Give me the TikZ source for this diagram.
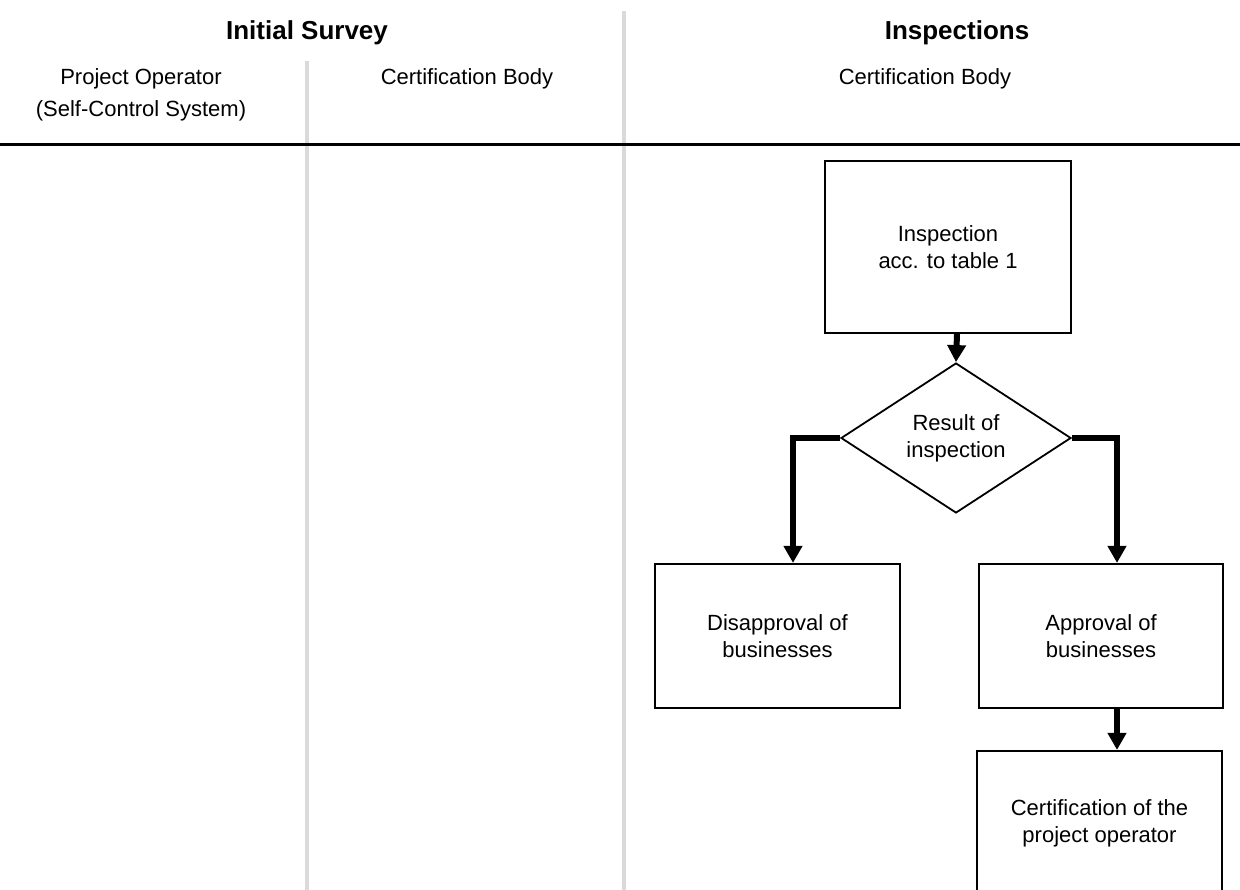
\documentclass[tikz,border=0pt]{standalone}
\usepackage{fontspec}
\setmainfont{Liberation Sans}
\usetikzlibrary{shapes.geometric,arrows.meta}
\definecolor{lanegray}{HTML}{DADADA}
\tikzset{
  box/.style={draw, line width=2.2pt, rectangle, minimum width=245pt, minimum height=144pt, inner sep=0pt, align=center, font=\fontsize{22}{27}\selectfont},
  dec/.style={draw, line width=1.8pt, diamond, minimum width=230pt, minimum height=150pt, inner sep=0pt, align=center, font=\fontsize{22}{27}\selectfont},
  arr/.style={line width=6pt, -{Triangle[width=18pt,length=17pt]}},
  title/.style={font=\fontsize{26}{30}\selectfont\bfseries},
  lbl/.style={font=\fontsize{22}{32}\selectfont, align=center},
  lane/.style={draw=lanegray, line width=4pt}
}
\begin{document}
\begin{tikzpicture}[x=1pt,y=-1pt]
\useasboundingbox (0,0) rectangle (1240,890);
% lanes
\coordinate (l1t) at (307,61);
\coordinate (l1b) at (307,890);
\coordinate (l2t) at (624,11);
\coordinate (l2b) at (624,890);
\draw[lane] (l1t) -- (l1b);
\draw[lane] (l2t) -- (l2b);
\coordinate (hl) at (0,145);
\coordinate (hr) at (1240,145);
\draw[line width=3pt] (hl) -- (hr);
% headings
\node[title] (t1) at (307,33) {Initial Survey};
\node[title] (t2) at (957,33) {Inspections};
\node[lbl] (h1) at (141,95) {Project Operator\\(Self-Control System)};
\node[lbl] (h2) at (467,79) {Certification Body};
\node[lbl] (h3) at (925,79) {Certification Body};
% flow
\node[box, minimum width=246pt, minimum height=172pt] (insp) at (948,247) {Inspection\\acc. to table 1};
\node[dec] (dia) at (956,438) {Result of\\inspection};
\node[box] (dis) at (777.5,636) {Disapproval of\\businesses};
\node[box, minimum width=244pt] (app) at (1101,636) {Approval of\\businesses};
\node[box] (cert) at (1099.5,823) {Certification of the\\project operator};
\draw[arr] ([xshift=9pt]insp.south) -- (dia.north);
\draw[arr] (dia.west) -| ([xshift=15.5pt]dis.north);
\draw[arr] (dia.east) -| ([xshift=16pt]app.north);
\draw[arr] ([xshift=16pt]app.south) -- ([xshift=17.5pt]cert.north);
\end{tikzpicture}
\end{document}
